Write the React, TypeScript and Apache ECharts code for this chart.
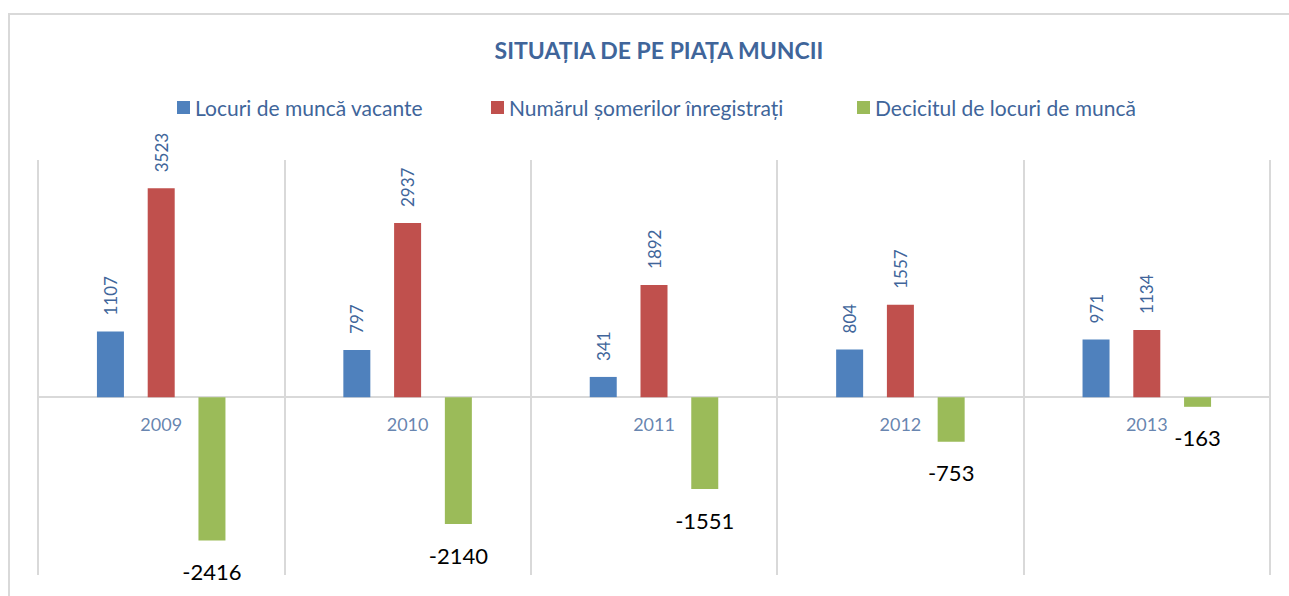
import React, { useEffect, useRef } from "react";
import * as echarts from "echarts";

const years = ["2009", "2010", "2011", "2012", "2013"];
const vacancies = [1107, 797, 341, 804, 971];
const unemployed = [3523, 2937, 1892, 1557, 1134];
const deficit = [-2416, -2140, -1551, -753, -163];
const seriesNames = [
  "Locuri de muncă vacante",
  "Numărul șomerilor înregistrați",
  "Decicitul de locuri de muncă",
];
const colors = ["#4F81BD", "#C0504D", "#9BBB59"];
const titleText = "SITUAȚIA DE PE PIAȚA MUNCII";

const TEXT_BLUE = "#40659A";
const GRID_GRAY = "#D9D9D9";
const FONT = "Lato, 'Open Sans', sans-serif";

export default function App() {
  const ref = useRef<HTMLDivElement>(null);

  useEffect(() => {
    if (!ref.current) return;
    const chart = echarts.init(ref.current, undefined, { renderer: "svg" });

    const rotatedLabel = {
      show: true,
      position: "top",
      rotate: 90,
      align: "left",
      verticalAlign: "middle",
      distance: 16,
      color: TEXT_BLUE,
      fontSize: 17,
      fontFamily: FONT,
    };

    const legendX = [172, 486, 852];

    chart.setOption({
      animation: false,
      backgroundColor: "#ffffff",
      title: {
        text: titleText,
        left: 654,
        top: 33,
        textAlign: "center",
        textStyle: {
          color: TEXT_BLUE,
          fontSize: 23,
          fontWeight: "bold",
          fontFamily: FONT,
        },
      },
      legend: seriesNames.map((n, i) => ({
        data: [n],
        left: legendX[i],
        top: 92,
        icon: "rect",
        itemWidth: 13,
        itemHeight: 13,
        itemGap: 0,
        textStyle: { color: TEXT_BLUE, fontSize: 21, fontFamily: FONT },
        selectedMode: false,
      })),
      graphic: [
        {
          type: "line",
          shape: { x1: 8, y1: 14, x2: 1289, y2: 14 },
          style: { stroke: GRID_GRAY, lineWidth: 2 },
          silent: true,
        },
        {
          type: "line",
          shape: { x1: 9, y1: 13, x2: 9, y2: 596 },
          style: { stroke: GRID_GRAY, lineWidth: 2 },
          silent: true,
        },
      ],
      grid: {
        left: 38,
        right: 19,
        top: 160,
        bottom: 21,
        containLabel: false,
        outerBoundsMode: "none",
      },
      xAxis: {
        type: "category",
        data: years,
        axisLine: { onZero: true, lineStyle: { color: GRID_GRAY, width: 2 } },
        axisTick: { show: false },
        axisLabel: { show: false },
        splitLine: { show: true, interval: 0, lineStyle: { color: GRID_GRAY, width: 2 } },
      },
      yAxis: {
        type: "value",
        min: -3000,
        max: 4000,
        interval: 1000,
        axisLine: { show: false },
        axisTick: { show: false },
        axisLabel: { show: false },
        splitLine: { show: false },
      },
      series: [
        {
          name: seriesNames[0],
          type: "bar",
          data: vacancies,
          barWidth: 27,
          barGap: "88%",
          itemStyle: { color: colors[0] },
          label: rotatedLabel,
        },
        {
          name: seriesNames[1],
          type: "bar",
          data: unemployed,
          barWidth: 27,
          barGap: "88%",
          itemStyle: { color: colors[1] },
          label: rotatedLabel,
        },
        {
          name: seriesNames[2],
          type: "bar",
          data: deficit,
          barWidth: 27,
          barGap: "88%",
          itemStyle: { color: colors[2] },
          label: {
            show: true,
            position: "bottom",
            distance: 20,
            color: "#000000",
            fontSize: 22,
            fontFamily: FONT,
          },
        },
        {
          name: "categoryLabels",
          type: "scatter",
          data: years.map((y) => [y, 0]),
          symbolSize: 0,
          silent: true,
          z: 1,
          label: {
            show: true,
            position: "bottom",
            distance: 18,
            formatter: (p: any) => p.value[0],
            color: TEXT_BLUE,
            fontSize: 18,
            fontFamily: FONT,
          },
        },
      ],
    });

    return () => chart.dispose();
  }, []);

  return (
    <div
      ref={ref}
      style={{ position: "absolute", left: 0, top: 0, width: 1289, height: 596 }}
    />
  );
}
